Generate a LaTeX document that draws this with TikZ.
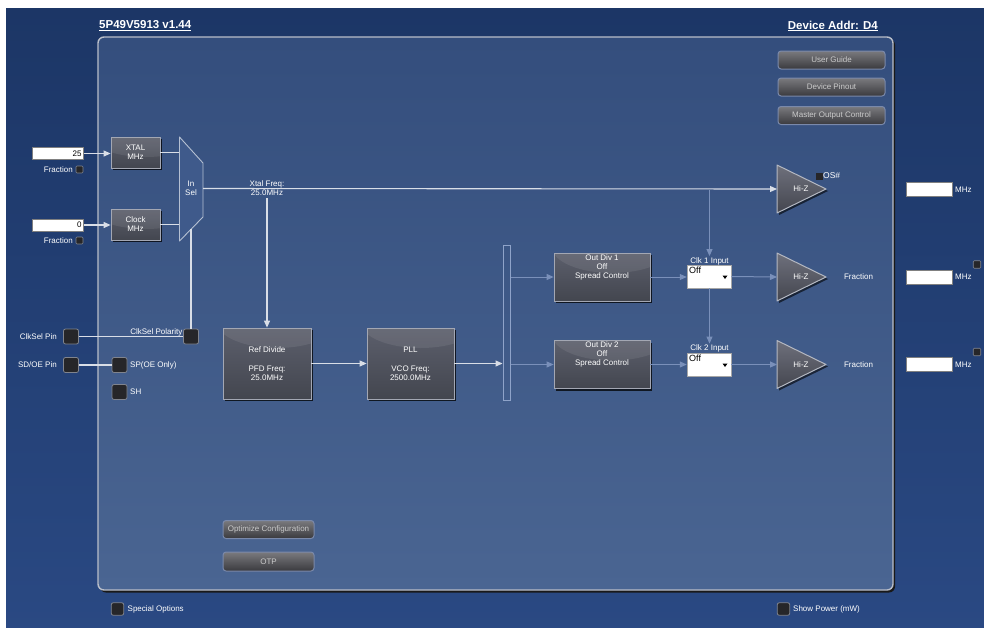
\documentclass[tikz,border=0pt]{standalone}
\usepackage{fontspec}
\setmainfont{Liberation Sans}
\usetikzlibrary{arrows.meta,shadows}
\definecolor{navyA}{HTML}{1C3666}
\definecolor{navyB}{HTML}{2A4983}
\definecolor{paneltop}{HTML}{344E7D}
\definecolor{panelbot}{HTML}{4A6592}
\definecolor{panedge}{HTML}{B9BEC9}
\definecolor{blocktop}{HTML}{5C5F6C}
\definecolor{blockbot}{HTML}{43464F}
\definecolor{blkedge}{HTML}{A3A7B3}
\definecolor{wire}{HTML}{D9DEE7}
\definecolor{faint}{HTML}{7A90BA}
\definecolor{chk}{HTML}{262629}
\definecolor{chkedge}{HTML}{80848E}
\definecolor{btntop}{HTML}{7A7A7E}
\definecolor{btnbot}{HTML}{3A3A3E}
\definecolor{btnedge}{HTML}{7A89AA}
\definecolor{btntext}{HTML}{CBCBCB}
\definecolor{tritop}{HTML}{6E707C}
\definecolor{tribot}{HTML}{44464F}
\definecolor{triedge}{HTML}{B4B8C2}
\definecolor{muxfill}{HTML}{3F5A8B}
\definecolor{muxedge}{HTML}{B5C0D2}
\definecolor{baredge}{HTML}{8FA3C9}
\begin{document}
\begin{tikzpicture}[x=1pt,y=-1pt,
  txt/.style={text=white,font=\fontsize{8}{9}\selectfont,inner sep=0pt,align=center},
  titletxt/.style={text=white,font=\bfseries\fontsize{11.5}{13}\selectfont,inner sep=0pt},
  blk/.style={rectangle,draw=blkedge,line width=0.8pt,top color=blocktop,bottom color=blockbot,
    drop shadow={shadow xshift=2pt,shadow yshift=-2pt,fill=black,opacity=0.75},
    text=white,font=\fontsize{8}{9}\selectfont,align=center,inner sep=1pt,
    path picture={\fill[white,opacity=0.08] ([xshift=10pt,yshift=6pt]path picture bounding box.north) ellipse (60pt and 26pt);}},
  btn/.style={rectangle,rounded corners=3pt,draw=btnedge,line width=1pt,top color=btntop,bottom color=btnbot,
    minimum width=107pt,minimum height=18pt,text=btntext,font=\fontsize{8}{9}\selectfont,inner sep=0pt},
  chkbox/.style={rectangle,rounded corners=2pt,fill=chk,draw=chkedge,line width=0.8pt,minimum size=#1,inner sep=0pt},
  chkbox/.default=15pt,
  smallchk/.style={rectangle,rounded corners=1pt,fill=chk,draw=chkedge,line width=0.6pt,minimum size=#1,inner sep=0pt},
  inbox/.style={rectangle,fill=white,draw=gray,line width=0.5pt,minimum width=51pt,minimum height=12pt,inner sep=2pt,
    font=\fontsize{8}{9}\selectfont,text=black},
  outbox/.style={rectangle,fill=white,draw=gray,line width=0.5pt,minimum width=46pt,minimum height=14pt,inner sep=0pt},
  ddbox/.style={rectangle,fill=white,draw=gray!70,line width=0.5pt,minimum width=44pt,minimum height=23pt,inner sep=0pt},
  wireline/.style={draw=wire,line width=1.1pt},
  tipw/.style={-{Triangle[length=7pt,width=6pt]}},
  fwire/.style={draw=faint,line width=1pt,-{Triangle[length=7pt,width=6pt]}},
  tri/.style={draw=triedge,line width=1pt,top color=tritop,bottom color=tribot,line join=round},
  trishadow/.style={fill=black,opacity=0.6,line join=round}
]
\useasboundingbox (0,0) rectangle (984,627);
\fill[white] (0,0) rectangle (984,627);
\shade[top color=navyA,bottom color=navyB] (6,8) rectangle (992,634);

% main panel
\fill[black!90,rounded corners=6pt] (100,39) rectangle (895,592.5);
\path[draw=panedge,line width=1.4pt,top color=paneltop,bottom color=panelbot,rounded corners=6pt] (98,37) rectangle (893,590);

% titles
\node[titletxt,anchor=west] (title) at (99,26) {\underline{5P49V5913 v1.44}};
\node[titletxt,anchor=east] (addr) at (878,26) {\underline{Device Addr: D4}};

% top buttons
\node[btn] (ug) at (831.5,60) {User Guide};
\node[btn] (dp) at (831.5,87) {Device Pinout};
\node[btn] (moc) at (831.5,115.5) {Master Output Control};

% inputs
\node[inbox,align=right,text width=47pt] (in1) at (58,153.5) {25};
\node[inbox,align=right,text width=47pt] (in2) at (58,225) {0};
\node[smallchk=7pt] (fr1c) at (79.5,169.5) {};
\node[txt,anchor=east] (fr1) at (73,169.5) {Fraction};
\node[smallchk=7pt] (fr2c) at (79.5,240.5) {};
\node[txt,anchor=east] (fr2) at (73,240.5) {Fraction};

\node[blk,minimum width=49pt,minimum height=31pt] (xtal) at (135.5,152.5) {XTAL\\MHz};
\node[blk,minimum width=49pt,minimum height=31pt] (clk) at (135.5,224.5) {Clock\\MHz};
\draw[wireline,tipw] (in1.east) -- (xtal.west |- in1.east);
\draw[wireline,tipw] (in2.east) -- (clk.west |- in2.east);

% mux
\coordinate (muxL) at (179.5,188.5);
\coordinate (muxout) at (203,188.5);
\coordinate (muxbot) at (191,229);
\draw[wireline] (xtal.east) -- (xtal.east -| muxL);
\draw[wireline] (clk.east) -- (clk.east -| muxL);
\path[fill=muxfill,draw=muxedge,line width=0.9pt,line join=round] (179.5,137) -- (203,163) -- (203,217) -- (179.5,241) -- cycle;
\node[txt] (insel) at (191,188.5) {In\\Sel};

% output triangles
\coordinate (tri0in) at (777,189);
\coordinate (tri1in) at (777,277);
\coordinate (tri2in) at (777,364.5);
\foreach \yc in {189,277,364.5}{
  \fill[trishadow] (779,\yc-22) -- (828,\yc+2) -- (779,\yc+26) -- cycle;
  \path[tri] (777,\yc-24) -- (826,\yc) -- (777,\yc+24) -- cycle;
}
\node[txt] (hz0) at (801,189) {Hi-Z};
\node[txt] (hz1) at (801,277) {Hi-Z};
\node[txt] (hz2) at (801,364.5) {Hi-Z};
\node[rectangle,fill=chk,minimum size=7pt,inner sep=0pt] (osc) at (819.5,176.5) {};
\node[txt,anchor=west,font=\fontsize{8.5}{9}\selectfont] (os) at (823,176) {OS\#};
\node[txt] (frc1) at (858.5,277) {Fraction};
\node[txt] (frc2) at (858.5,364.5) {Fraction};

% xtal line
\draw[wireline,tipw] (muxout) -- (tri0in);
\node[txt] (xfreq) at (267,188.5) {Xtal Freq:\\25.0MHz};

% ref divide / pll
\node[blk,minimum width=88pt,minimum height=71pt] (ref) at (267,363.5) {Ref Divide\\[10pt]PFD Freq:\\25.0MHz};
\node[blk,minimum width=87pt,minimum height=71pt] (pll) at (410.5,363.5) {PLL\\[10pt]VCO Freq:\\2500.0MHz};
\draw[wireline,tipw] (xfreq.south) ++(0,2) -- (ref.north);
\draw[wireline,tipw] (ref.east) -- (pll.west);

% bar
\node[rectangle,draw=baredge,line width=1pt,minimum width=7pt,minimum height=155pt,inner sep=0pt] (bar) at (506.5,322.5) {};
\draw[wireline,tipw] (pll.east) -- (pll.east -| bar.west);

% out dividers
\node[blk,minimum width=96pt,minimum height=48pt] (od1) at (602,277) {};
\node[txt] (od1t) at (602,267) {Out Div 1\\Off\\Spread Control};
\node[blk,minimum width=96pt,minimum height=48pt] (od2) at (602,364.5) {};
\node[txt] (od2t) at (602,354.5) {Out Div 2\\Off\\Spread Control};
\draw[fwire] (bar.east |- od1.west) -- (od1.west);
\draw[fwire] (bar.east |- od2.west) -- (od2.west);

% dropdowns
\node[ddbox] (dd1) at (709,276.5) {};
\node[ddbox] (dd2) at (709,364.5) {};
\node[anchor=north west,inner sep=0pt,font=\fontsize{9}{10}\selectfont,text=black] (dd1t) at (689,267) {Off};
\node[anchor=north west,inner sep=0pt,font=\fontsize{9}{10}\selectfont,text=black] (dd2t) at (689,355) {Off};
\fill[black] (722.5,275.5) -- (727.5,275.5) -- (725,279) -- cycle;
\fill[black] (722.5,363.5) -- (727.5,363.5) -- (725,367) -- cycle;
\node[txt,inner sep=1pt] (c1l) at (709.5,261) {Clk 1 Input};
\node[txt,inner sep=1pt] (c2l) at (709.5,348.5) {Clk 2 Input};
\draw[fwire] (od1.east) -- (dd1.west |- od1.east);
\draw[fwire] (od2.east) -- (dd2.west |- od2.east);
\draw[fwire] (dd1.east) -- (tri1in);
\draw[fwire] (dd2.east) -- (tri2in);
\coordinate (tap) at (709.5,189.5);
\draw[fwire] (tap) -- (c1l.north);
\draw[fwire] (dd1.south -| c2l.north) -- (c2l.north);

% output boxes
\node[outbox] (o0) at (929,189.5) {};
\node[outbox] (o1) at (929,277) {};
\node[outbox] (o2) at (929,364.5) {};
\node[txt,anchor=west] (m0) at (955,189.5) {MHz};
\node[txt,anchor=west] (m1) at (955,277) {MHz};
\node[txt,anchor=west] (m2) at (955,364.5) {MHz};
\node[smallchk=7.5pt] (oc1) at (977,264.5) {};
\node[smallchk=7.5pt] (oc2) at (977,352) {};

% pin controls
\node[chkbox] (cspin) at (71,336.5) {};
\node[txt,anchor=east] (cspinl) at (57,336.5) {ClkSel Pin};
\node[chkbox] (pol) at (191,336.5) {};
\draw[wireline] (muxbot) -- (pol.north);
\draw[wireline] (cspin.east) -- (pol.west);
\node[txt,anchor=south east] (poll) at (182.5,336) {ClkSel Polarity};
\node[chkbox] (sdoe) at (71,365) {};
\node[txt,anchor=east] (sdoel) at (57,365) {SD/OE Pin};
\node[chkbox] (spoe) at (119.5,365) {};
\node[txt,anchor=west] (spoel) at (130,365) {SP(OE Only)};
\draw[wireline] (sdoe.east) -- (spoe.west);
\node[chkbox] (sh) at (119.5,392) {};
\node[txt,anchor=west] (shl) at (130,392) {SH};

% bottom buttons
\node[btn,minimum width=91pt,minimum height=18pt] (opt) at (268.5,529.5) {Optimize Configuration};
\node[btn,minimum width=91pt,minimum height=19pt] (otp) at (268.5,561.5) {OTP};

% footer options
\node[chkbox=12.5pt] (spc) at (117.5,609) {};
\node[txt,anchor=west] (spl) at (127.5,609) {Special Options};
\node[chkbox=12.5pt] (pwc) at (783.5,609) {};
\node[txt,anchor=west] (pwl) at (793,609) {Show Power (mW)};
\end{tikzpicture}
\end{document}
